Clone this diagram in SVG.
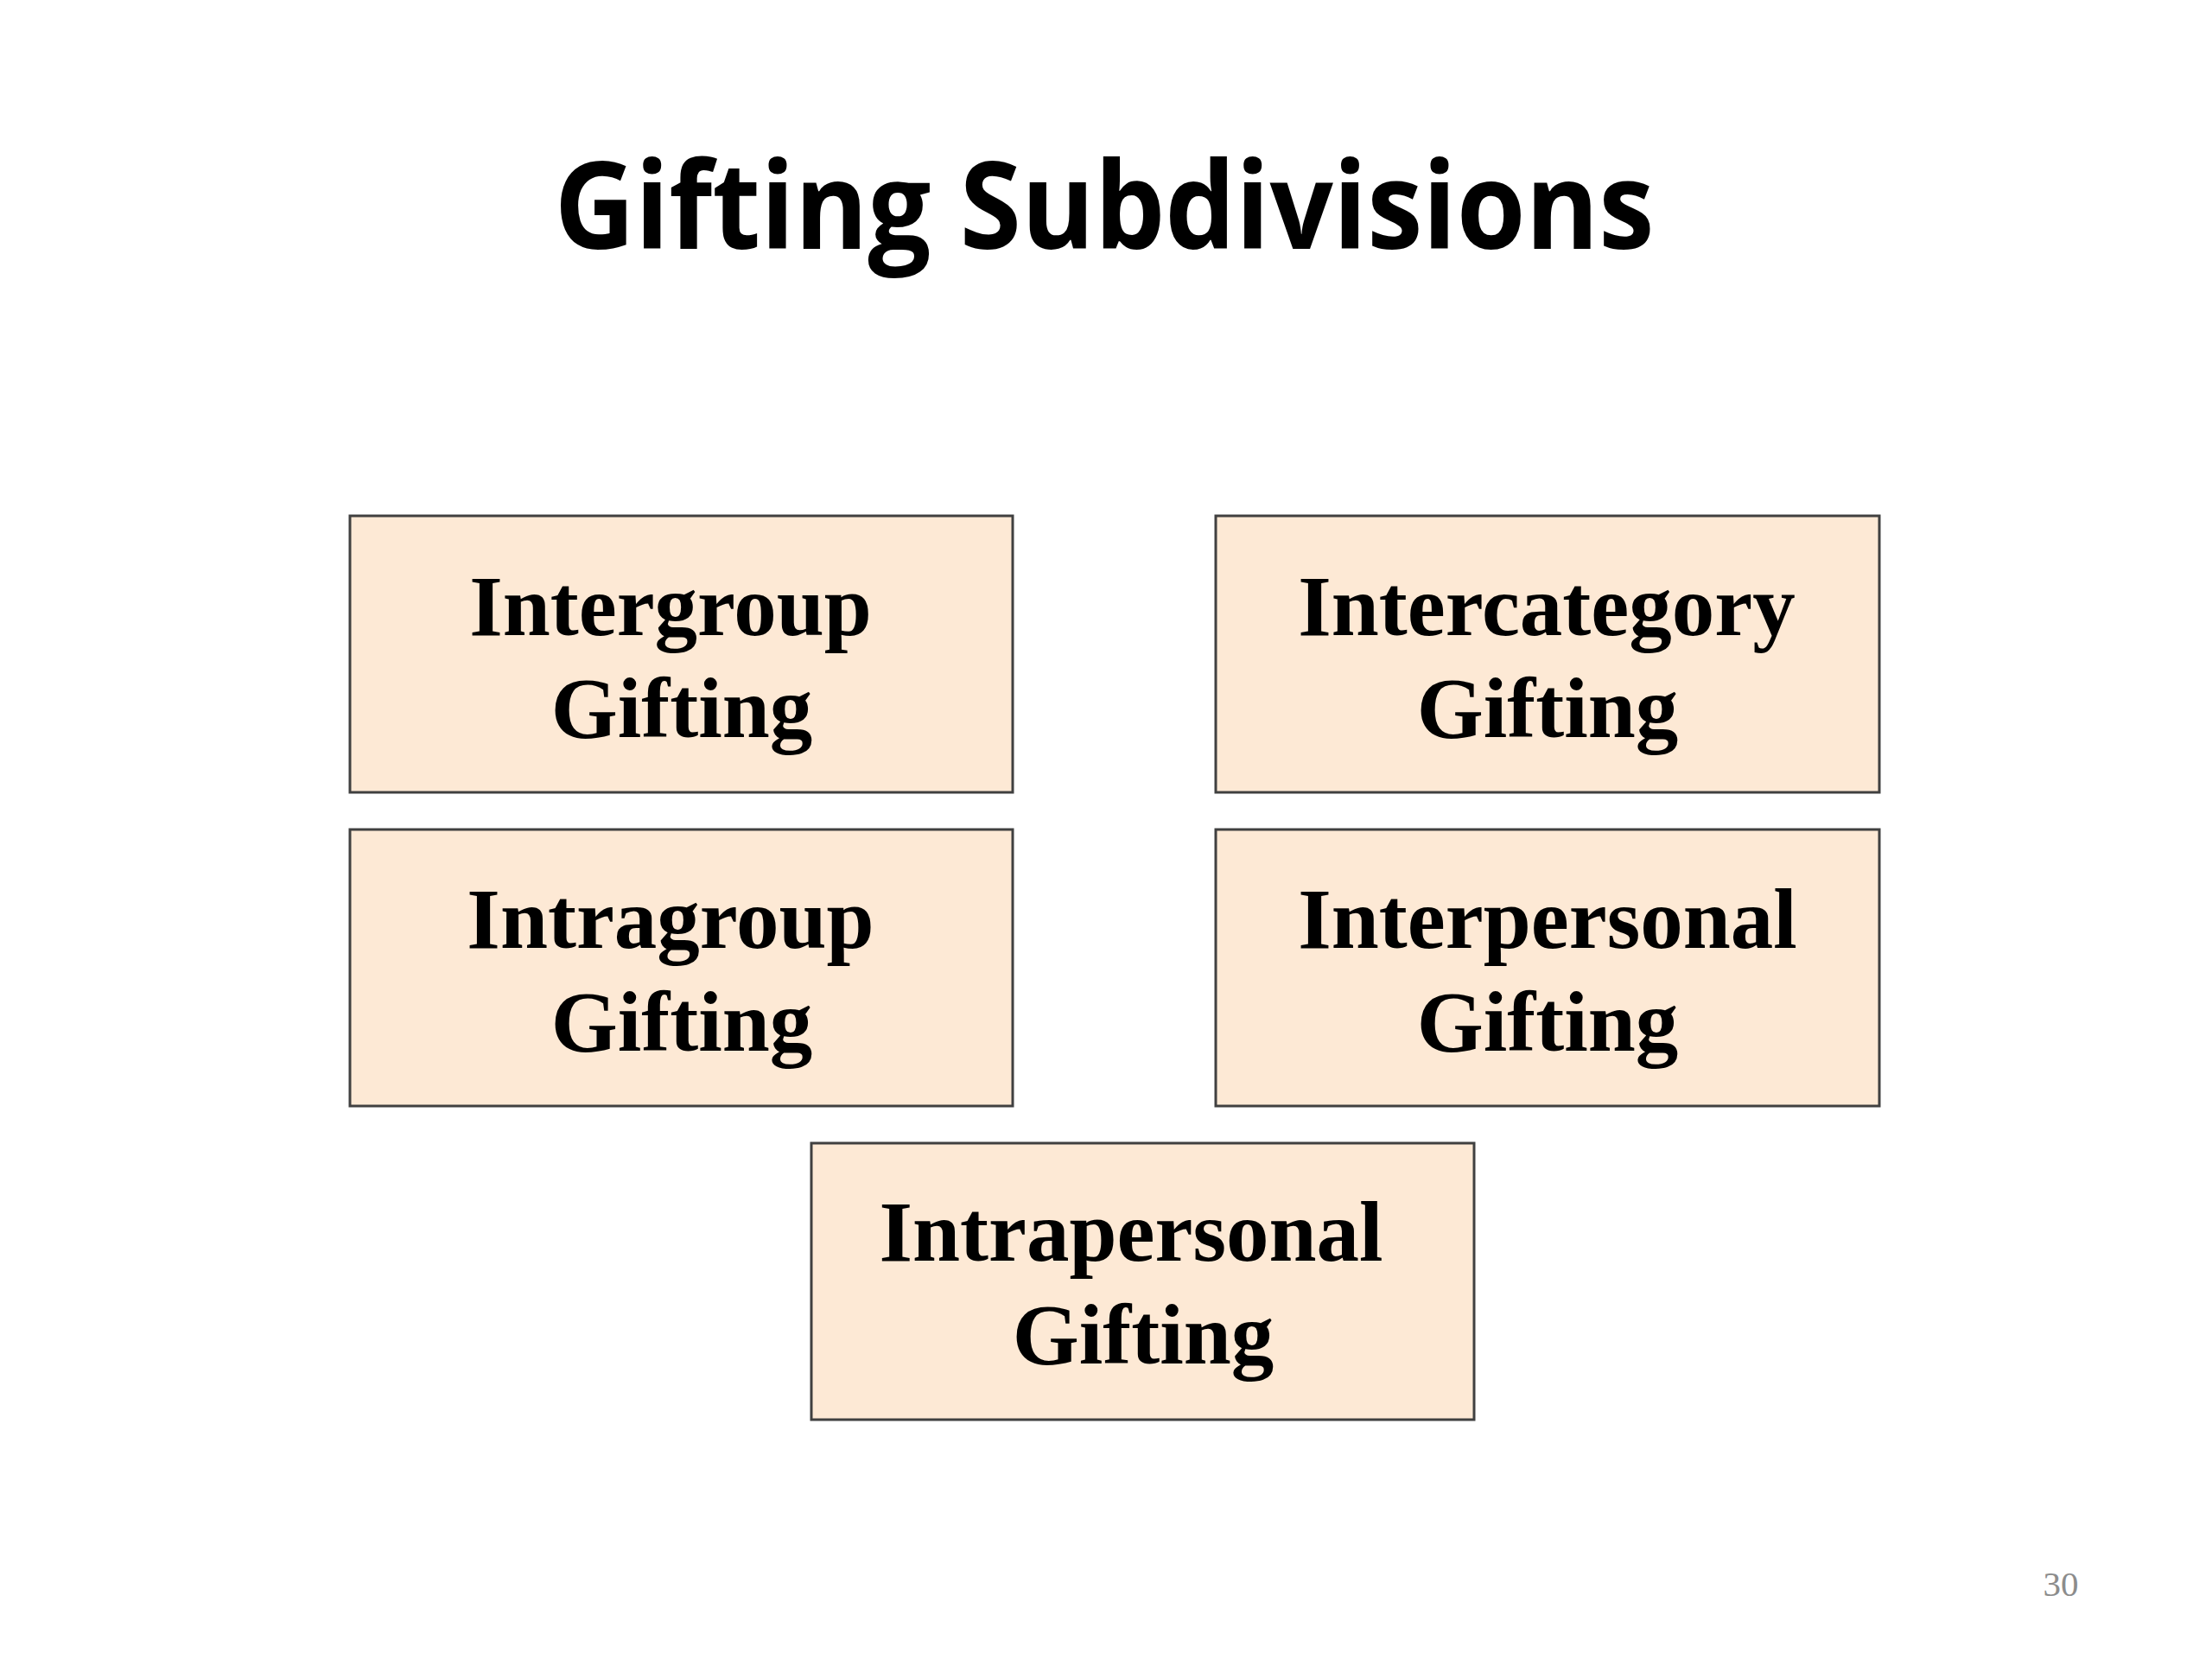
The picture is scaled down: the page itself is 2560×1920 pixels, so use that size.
<svg xmlns="http://www.w3.org/2000/svg" width="2560" height="1920" viewBox="0 0 2560 1920">
<style>
.box{fill:#FDE9D5;stroke:#404040;stroke-width:3}
.lbl{font-family:"Liberation Serif","Times New Roman",serif;font-weight:bold;font-size:99px;fill:#000;text-anchor:middle}
.title{font-family:"Open Sans","Liberation Sans",sans-serif;font-weight:bold;font-size:140px;fill:#000;text-anchor:middle}
.num{font-family:"Liberation Serif",serif;font-size:41px;fill:#8c8c8c;text-anchor:middle}
</style>
<rect width="2560" height="1920" fill="#fff"/>
<text class="title" x="1278" y="288" textLength="1273" lengthAdjust="spacingAndGlyphs">Gifting Subdivisions</text>
<g id="connectors"></g>
<g id="intergroup">
<rect class="box" x="405" y="597" width="767" height="320"/>
<text class="lbl" x="776" y="735">Intergroup</text>
<text class="lbl" x="789" y="853">Gifting</text>
</g>
<g id="intercategory">
<rect class="box" x="1407" y="597" width="768" height="320"/>
<text class="lbl" x="1790" y="735">Intercategory</text>
<text class="lbl" x="1791" y="853">Gifting</text>
</g>
<g id="intragroup">
<rect class="box" x="405" y="960" width="767" height="320"/>
<text class="lbl" x="776" y="1097">Intragroup</text>
<text class="lbl" x="789" y="1216">Gifting</text>
</g>
<g id="interpersonal">
<rect class="box" x="1407" y="960" width="768" height="320"/>
<text class="lbl" x="1791" y="1097">Interpersonal</text>
<text class="lbl" x="1791" y="1216">Gifting</text>
</g>
<g id="intrapersonal">
<rect class="box" x="939" y="1323" width="767" height="320"/>
<text class="lbl" x="1309" y="1459">Intrapersonal</text>
<text class="lbl" x="1323" y="1578">Gifting</text>
</g>
<text class="num" x="2385" y="1847">30</text>
</svg>
